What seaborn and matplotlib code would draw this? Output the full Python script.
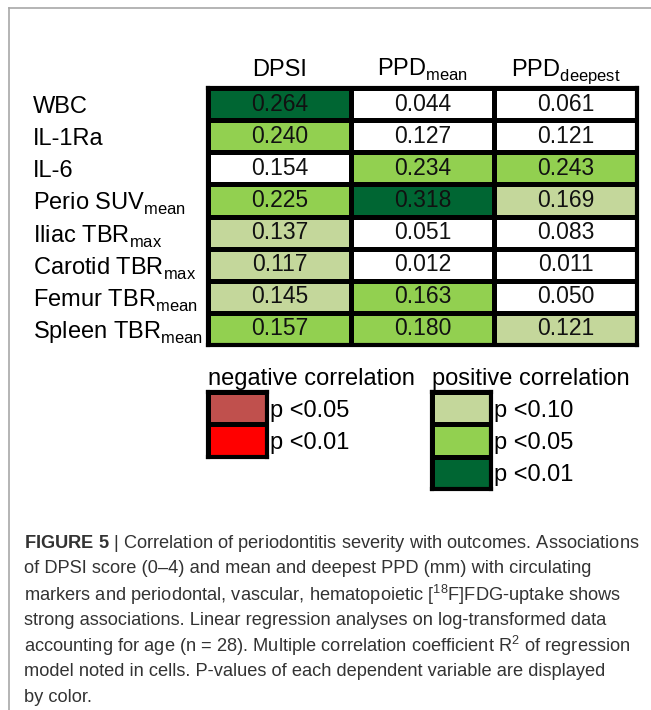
import numpy as np
import pandas as pd
import seaborn as sns
import matplotlib
matplotlib.use("Agg")
import matplotlib.pyplot as plt
from matplotlib.colors import ListedColormap
from matplotlib.lines import Line2D

# ---------------- data ----------------
rows = ["WBC", "IL-1Ra", "IL-6", r"Perio SUV$_{\mathrm{mean}}$",
        r"Iliac TBR$_{\mathrm{max}}$", r"Carotid TBR$_{\mathrm{max}}$",
        r"Femur TBR$_{\mathrm{mean}}$", r"Spleen TBR$_{\mathrm{mean}}$"]
cols = ["DPSI", r"PPD$_{\mathrm{mean}}$", r"PPD$_{\mathrm{deepest}}$"]

r2_dpsi = [0.264, 0.240, 0.154, 0.225, 0.137, 0.117, 0.145, 0.157]
r2_ppd_mean = [0.044, 0.127, 0.234, 0.318, 0.051, 0.012, 0.163, 0.180]
r2_ppd_deepest = [0.061, 0.121, 0.243, 0.169, 0.083, 0.011, 0.050, 0.121]

# significance code: 0 = n.s., 1 = p<0.10, 2 = p<0.05, 3 = p<0.01 (positive);
# -2 = p<0.05, -3 = p<0.01 (negative)
sig_dpsi = [3, 2, 0, 2, 1, 1, 1, 2]
sig_ppd_mean = [0, 0, 2, 3, 0, 0, 2, 2]
sig_ppd_deepest = [0, 0, 2, 1, 0, 0, 0, 1]

neg_codes = [-2, -3]
neg_labels = ["p <0.05", "p <0.01"]
pos_codes = [1, 2, 3]
pos_labels = ["p <0.10", "p <0.05", "p <0.01"]

caption_lines = [
    r"$\mathbf{FIGURE\ 5}$ | Correlation of periodontitis severity with outcomes. Associations",
    "of DPSI score (0–4) and mean and deepest PPD (mm) with circulating",
    r"markers and periodontal, vascular, hematopoietic [$^{18}$F]FDG-uptake shows",
    "strong associations. Linear regression analyses on log-transformed data",
    r"accounting for age (n = 28). Multiple correlation coefficient R$^{2}$ of regression",
    "model noted in cells. P-values of each dependent variable are displayed",
    "by color.",
]

# ---------------- style ----------------
plt.rcParams["font.family"] = ["Liberation Sans", "DejaVu Sans"]
plt.rcParams["mathtext.fontset"] = "custom"
plt.rcParams["mathtext.rm"] = "Liberation Sans"
plt.rcParams["mathtext.it"] = "Liberation Sans:italic"
plt.rcParams["mathtext.bf"] = "Liberation Sans:bold"
try:
    import matplotlib._mathtext as _mt
    _mt.FontConstantsBase.sub1 = 0.42
    _mt.FontConstantsBase.sub2 = 0.55
except Exception:
    pass

cmap = ListedColormap(["#FF0000", "#C0504D", "#FFFFFF", "#FFFFFF",
                       "#C4D79B", "#92D050", "#006633"])
vmin, vmax = -3.5, 3.5

W, H = 651, 710
fig = plt.figure(figsize=(W / 100, H / 100), dpi=100)
fig.patch.set_facecolor("white")


def fx(px):
    return px / W


def fy(px):
    return 1 - px / H


# frame lines
fig.add_artist(Line2D([fx(9), 1], [fy(8), fy(8)], color="#a8a8a8", lw=1.2))
fig.add_artist(Line2D([fx(9), fx(9)], [fy(8), 0], color="#a8a8a8", lw=1.2))

# ---------------- main table ----------------
vals = pd.DataFrame({c: v for c, v in zip(cols, [r2_dpsi, r2_ppd_mean, r2_ppd_deepest])},
                    index=rows)
sigs = pd.DataFrame({c: v for c, v in zip(cols, [sig_dpsi, sig_ppd_mean, sig_ppd_deepest])},
                    index=rows)

ax = fig.add_axes([fx(208), fy(345), fx(637) - fx(208), fy(88) - fy(345)])
sns.heatmap(sigs, ax=ax, cmap=cmap, vmin=vmin, vmax=vmax, cbar=False,
            annot=vals, fmt=".3f",
            annot_kws={"fontsize": 16.5, "color": "#111111"},
            linewidths=2.2, linecolor="black")
for s in ax.spines.values():
    s.set_visible(True)
    s.set_linewidth(3.0)
    s.set_color("black")

ax.xaxis.tick_top()
ax.set_xticklabels(cols, fontsize=17, rotation=0)
for t in ax.get_xticklabels():
    t.set_verticalalignment("baseline")
ax.tick_params(axis="x", length=0, pad=9)

ax.set_yticklabels(rows, fontsize=17, rotation=0)
for t in ax.get_yticklabels():
    t.set_horizontalalignment("left")
    t.set_verticalalignment("center_baseline")
ax.tick_params(axis="y", length=0, pad=(208 - 33) * 0.72)
ax.set_xlabel("")
ax.set_ylabel("")

# ---------------- legends ----------------
def legend_block(left, top, codes, labels, title):
    n = len(codes)
    a = fig.add_axes([fx(left), fy(top + 32.3 * n), fx(59), (32.3 * n) / H])
    df = pd.DataFrame({"k": codes}, index=labels)
    sns.heatmap(df, ax=a, cmap=cmap, vmin=vmin, vmax=vmax, cbar=False,
                linewidths=2.2, linecolor="black")
    for s in a.spines.values():
        s.set_visible(True)
        s.set_linewidth(3.0)
        s.set_color("black")
    a.yaxis.tick_right()
    a.set_yticklabels(labels, fontsize=17, rotation=0)
    for t in a.get_yticklabels():
        t.set_horizontalalignment("left")
    a.tick_params(axis="y", length=0, pad=2.5)
    a.set_xticks([])
    a.set_xlabel("")
    a.set_ylabel("")
    a.set_title(title, loc="left", fontsize=17, pad=5)
    return a


legend_block(208, 392, neg_codes, neg_labels, "negative correlation")
legend_block(432, 392, pos_codes, pos_labels, "positive correlation")

# ---------------- caption ----------------
fs = 12.3
texts = []
for i, line in enumerate(caption_lines):
    t = fig.text(fx(24), fy(543 + 25.8 * i), line, fontsize=fs,
                 color="#333333", ha="left", va="center")
    texts.append(t)
fig.canvas.draw()
w = texts[0].get_window_extent().width
scale = (640 - 24) / w
for t in texts:
    t.set_fontsize(fs * scale)

fig.savefig("out.png", dpi=100, facecolor="white")
